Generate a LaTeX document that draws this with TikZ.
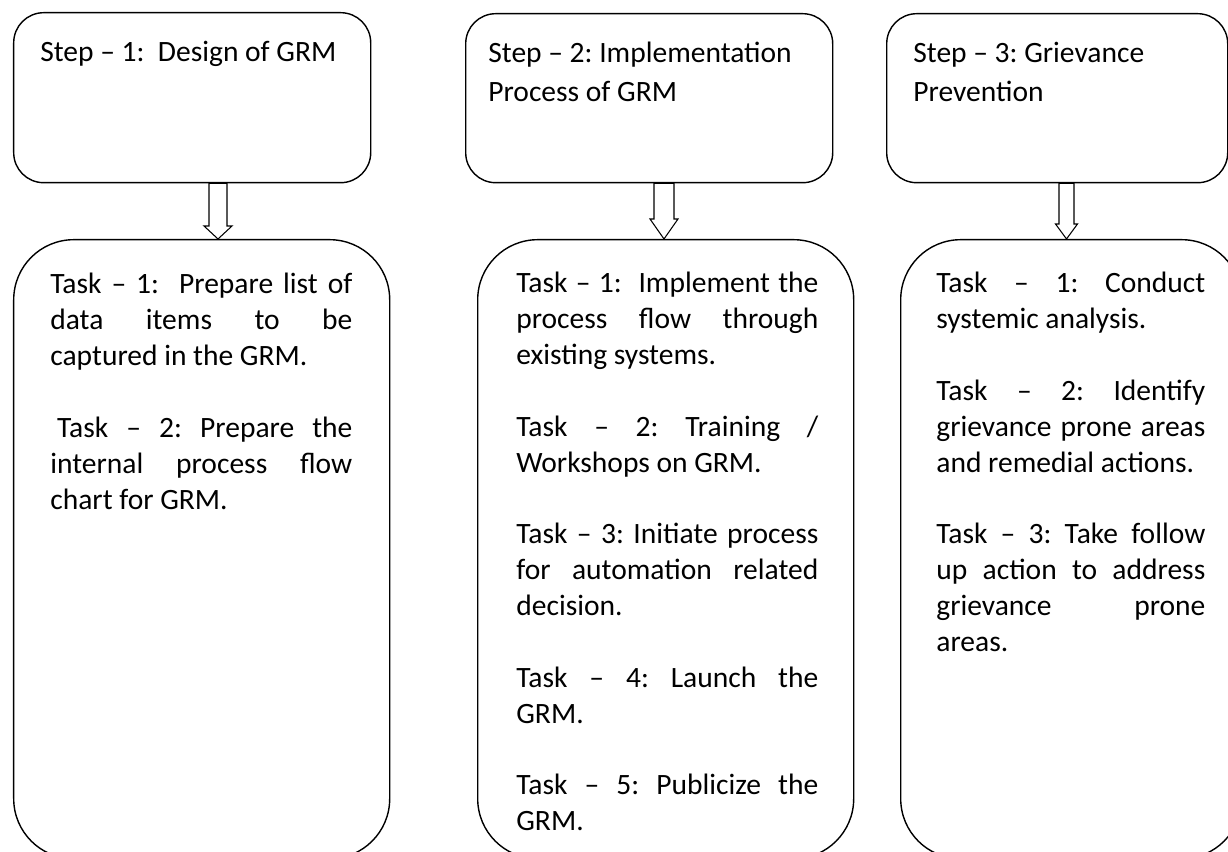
\documentclass[tikz,border=0pt]{standalone}
\usepackage{fontspec}
\setmainfont{Carlito}
\usepackage{tikz}
\usetikzlibrary{calc}
\frenchspacing

\begin{document}
\begin{tikzpicture}[
		stepbox/.style={draw, line width=0.8pt, rounded corners=0.6cm, anchor=north west, inner sep=0pt},
		taskbox/.style={draw, line width=0.8pt, rounded corners=1.2cm, anchor=north west, inner sep=0pt},
		steptext/.style={anchor=base west, inner sep=0pt, text width=7cm, align=justify,
			font=\fontsize{16.8}{22.1}\selectfont},
		tasktext/.style={anchor=base west, inner sep=0pt, align=justify,
			font=\fontsize{16.8}{20.4}\selectfont,
			execute at begin node={\setlength{\parskip}{20.4pt}\tolerance=10000 \hbadness=10000 \hyphenpenalty=10000 \frenchspacing}},
		hollowarrow/.style={draw, line width=0.6pt, fill=white}]
		\useasboundingbox (0,0) rectangle (24.56,17.04);
		\clip (0,0) rectangle (24.56,17.04);
		% steps
		\node[stepbox, minimum width=7.14cm, minimum height=3.40cm] (step1) at (0.26,16.80) {};
		\node[stepbox, minimum width=7.34cm, minimum height=3.38cm] (step2) at (9.30,16.78) {};
		\node[stepbox, minimum width=6.82cm, minimum height=3.38cm] (step3) at (17.72,16.78) {};
		\node[steptext] (step1txt) at (0.80,15.80) {Step -- 1:~ Design of GRM};
		\node[steptext] (step2txt) at (9.76,15.79) {Step -- 2: Implementation\\ Process of GRM};
		\node[steptext] (step3txt) at (18.26,15.79) {Step -- 3: Grievance\\ Prevention};
		% tasks
		\node[taskbox, minimum width=7.52cm, minimum height=12.38cm] (task1) at (0.26,12.26) {};
		\node[taskbox, minimum width=7.52cm, minimum height=12.38cm] (task2) at (9.54,12.26) {};
		\node[taskbox, minimum width=6.82cm, minimum height=12.38cm] (task3) at (18.00,12.26) {};
		\node[tasktext, text width=6.04cm] (task1txt) at (1.00,11.16) {Task -- 1:~ Prepare list of\linebreak
			data items to be\linebreak captured in the GRM.

			\hspace*{0.23em}Task -- 2: Prepare the\linebreak internal process flow\linebreak chart for GRM.};
		\node[tasktext, text width=6.04cm] (task2txt) at (10.32,11.18) {Task -- 1:~ Implement the\linebreak
			process flow through\linebreak existing systems.

			Task -- 2: Training /\linebreak Workshops on GRM.

			Task -- 3: Initiate process\linebreak for automation related\linebreak decision.

			Task -- 4: Launch the\linebreak GRM.

			Task -- 5: Publicize the\linebreak GRM.};
		\node[tasktext, text width=5.38cm] (task3txt) at (18.72,11.18) {Task -- 1: Conduct\linebreak
			systemic analysis.

			Task -- 2: Identify\linebreak grievance prone areas\linebreak and remedial actions.

			Task -- 3: Take follow\linebreak up action to address\linebreak grievance prone\linebreak areas.};
		% arrows between step and task
		\foreach \n/\ax/\sw/\hw/\hl in {1/4.36/0.18/0.28/0.26, 2/13.28/0.20/0.28/0.40, 3/21.33/0.15/0.22/0.30} {
			\coordinate (top\n) at (step\n.south -| \ax,0);
			\coordinate (tip\n) at (task\n.north -| \ax,0);
			\draw[hollowarrow] ($(top\n)+(-\sw,0)$) -- ($(tip\n)+(-\sw,\hl)$) -- ++(\sw-\hw,0) -- (tip\n)
				-- ++(\hw,\hl) -- ++(\sw-\hw,0) -- ($(top\n)+(\sw,0)$) -- cycle;
		}
	\end{tikzpicture}
\end{document}
